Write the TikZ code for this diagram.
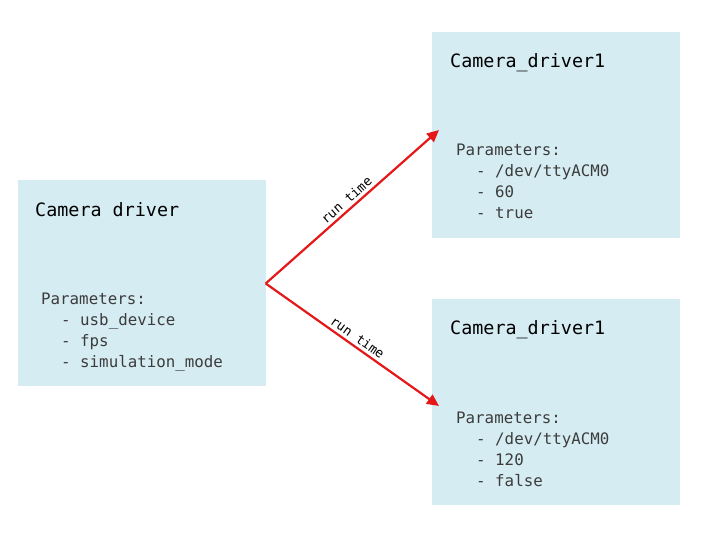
\documentclass[tikz,border=0pt]{standalone}
\usepackage{fontspec}
\setmonofont{DejaVu Sans Mono}
\usetikzlibrary{arrows.meta}
\definecolor{boxfill}{RGB}{214,236,243}
\definecolor{arrowred}{RGB}{228,24,24}
\definecolor{paramgray}{RGB}{60,60,60}
\begin{document}
\begin{tikzpicture}[x=1pt,y=1pt,
  box/.style={rectangle,fill=boxfill,draw=none,minimum width=248pt,minimum height=206pt,inner sep=0pt},
  title/.style={anchor=base west,inner sep=0pt,font=\ttfamily\fontsize{18.4}{21}\selectfont,text=black},
  param/.style={anchor=base west,inner sep=0pt,font=\ttfamily\fontsize{15.8}{18}\selectfont,text=paramgray},
  conn/.style={draw=arrowred,line width=2.2pt,-{Triangle[length=12pt,width=11pt]}},
  lbl/.style={font=\ttfamily\fontsize{13}{15}\selectfont,text=black,sloped,above,midway,inner sep=3pt}]
\useasboundingbox (0,0) rectangle (717,541);
\fill[white] (0,0) rectangle (717,541);
% boxes
\node[box] (L) at (141.5,257.5) {};
\node[box] (TR) at (556,406) {};
\node[box] (BR) at (556,139) {};
% left texts
\node[title] (Lt) at (35,324) {Camera driver};
\node[param] (Lp0) at (41,236) {Parameters:};
\node[param] (Lp1) at (61,215) {- usb\_device};
\node[param] (Lp2) at (61,194) {- fps};
\node[param] (Lp3) at (61,173) {- simulation\_mode};
% top right texts
\node[title] (Tt) at (450,473) {Camera\_driver1};
\node[param] (Tp0) at (456,385) {Parameters:};
\node[param] (Tp1) at (476,364) {- /dev/ttyACM0};
\node[param] (Tp2) at (476,343) {- 60};
\node[param] (Tp3) at (476,322) {- true};
% bottom right texts
\node[title] (Bt) at (450,206) {Camera\_driver1};
\node[param] (Bp0) at (456,118) {Parameters:};
\node[param] (Bp1) at (476,97) {- /dev/ttyACM0};
\node[param] (Bp2) at (476,76) {- 120};
\node[param] (Bp3) at (476,55) {- false};
% connectors
\coordinate (t1) at (439,411);
\coordinate (t2) at (439,135);
\draw[conn] (L.east) -- node[lbl] {run time} (t1);
\draw[conn] (L.east) -- node[lbl] {run time} (t2);
\end{tikzpicture}
\end{document}
